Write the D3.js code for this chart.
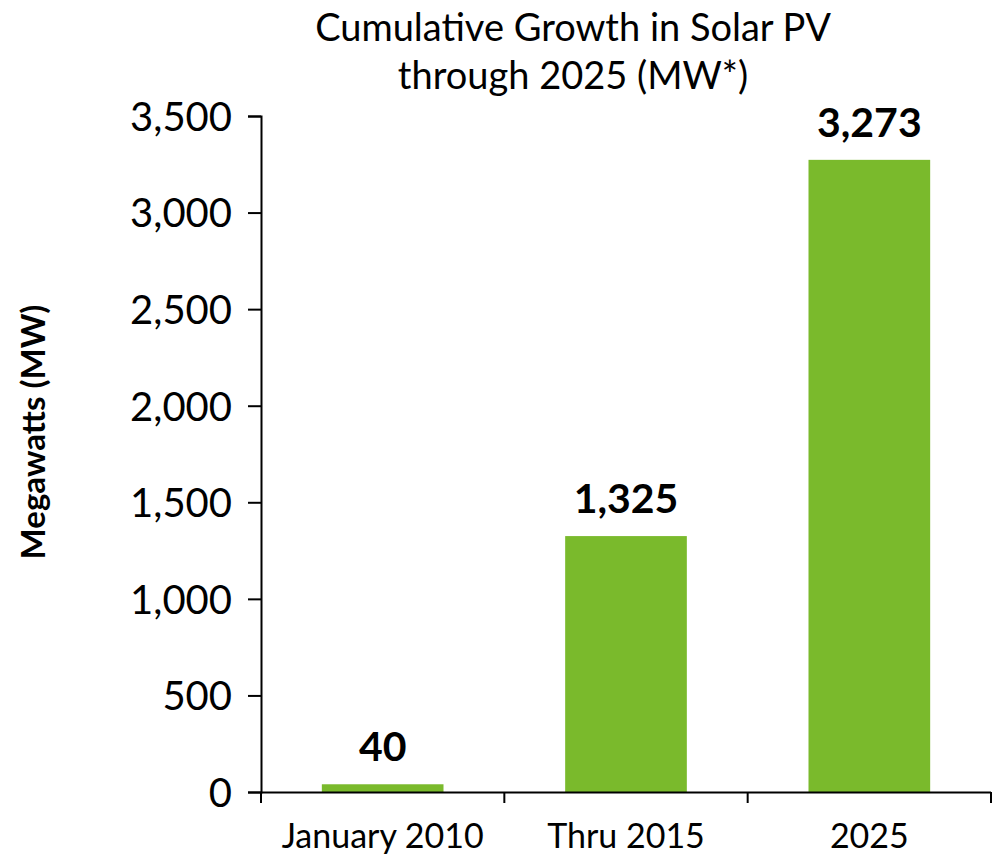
<!DOCTYPE html>
<html>
<head>
<meta charset="utf-8">
<script src="https://cdn.jsdelivr.net/npm/d3@7"></script>
<style>
  body { margin: 0; background: #fff; }
  text { font-family: Lato, "Open Sans", sans-serif; fill: #000; }
</style>
</head>
<body>
<svg id="chart" width="996" height="857"></svg>
<script>
// chart data
const categories = ["January 2010", "Thru 2015", "2025"];
const values = [40, 1325, 3273];
const yTicks = [0, 500, 1000, 1500, 2000, 2500, 3000, 3500];
const titleLines = ["Cumulative Growth in Solar PV", "through 2025 (MW*)"];

const svg = d3.select("#chart");
const plotLeft = 261, plotRight = 991, plotTop = 116, plotBottom = 792;

const x = d3.scaleBand()
    .domain(categories)
    .range([plotLeft, plotRight])
    .paddingInner(0.5)
    .paddingOuter(0.25);

const y = d3.scaleLinear().domain([0, 3500]).range([plotBottom, plotTop]);

//bars
svg.selectAll("rect.bar")
    .data(values)
    .enter().append("rect")
    .attr("class", "bar")
    .attr("x", (d, i) => x(categories[i]))
    .attr("width", x.bandwidth())
    .attr("y", d => y(d))
    .attr("height", d => plotBottom - y(d))
    .attr("fill", "#7aba2c");

// value labels
svg.selectAll("text.val")
    .data(values)
    .enter().append("text")
    .attr("class", "val")
    .attr("x", (d, i) => x(categories[i]) + x.bandwidth() / 2)
    .attr("y", d => y(d) - 23)
    .attr("text-anchor", "middle")
    .style("font-size", "41px")
    .style("font-weight", "bold")
    .text(d => d3.format(",")(d));

// y axis
const yAxis = svg.append("g")
    .attr("transform", `translate(${plotLeft},0)`)
    .call(d3.axisLeft(y).tickValues(yTicks).tickFormat(d3.format(",")).tickSizeOuter(0).tickSize(13).tickPadding(16));
yAxis.selectAll("text").style("font-size", "40px").attr("dy", "0.36em");

// x axis
const xAxis = svg.append("g")
    .attr("transform", `translate(0,${plotBottom})`)
    .call(d3.axisBottom(x).tickSize(0).tickPadding(32));
xAxis.selectAll("text").style("font-size", "34px");
xAxis.select(".domain").attr("d", `M${plotLeft},0.5H${plotRight}`);

// category dividers
const bounds = d3.range(categories.length + 1).map(i => plotLeft + i * (plotRight - plotLeft) / categories.length);
xAxis.selectAll("line.div")
    .data(bounds)
    .enter().append("line")
    .attr("class", "div")
    .attr("x1", d => d).attr("x2", d => d)
    .attr("y1", 0).attr("y2", 11)
    .attr("stroke", "#000");

svg.selectAll(".domain, .tick line").attr("stroke", "#000").attr("stroke-width", 2);
svg.selectAll("line.div").attr("stroke-width", 2);

// title
svg.selectAll("text.title")
    .data(titleLines)
    .enter().append("text")
    .attr("class", "title")
    .attr("x", 573)
    .attr("y", (d, i) => 41 + i * 48)
    .attr("text-anchor", "middle")
    .style("font-size", "38px")
    .text(d => d);

// y label
svg.append("text")
    .attr("transform", "translate(45,432) rotate(-90)")
    .attr("text-anchor", "middle")
    .style("font-size", "33px")
    .style("font-weight", "bold")
    .text("Megawatts (MW)");
</script>
</body>
</html>
